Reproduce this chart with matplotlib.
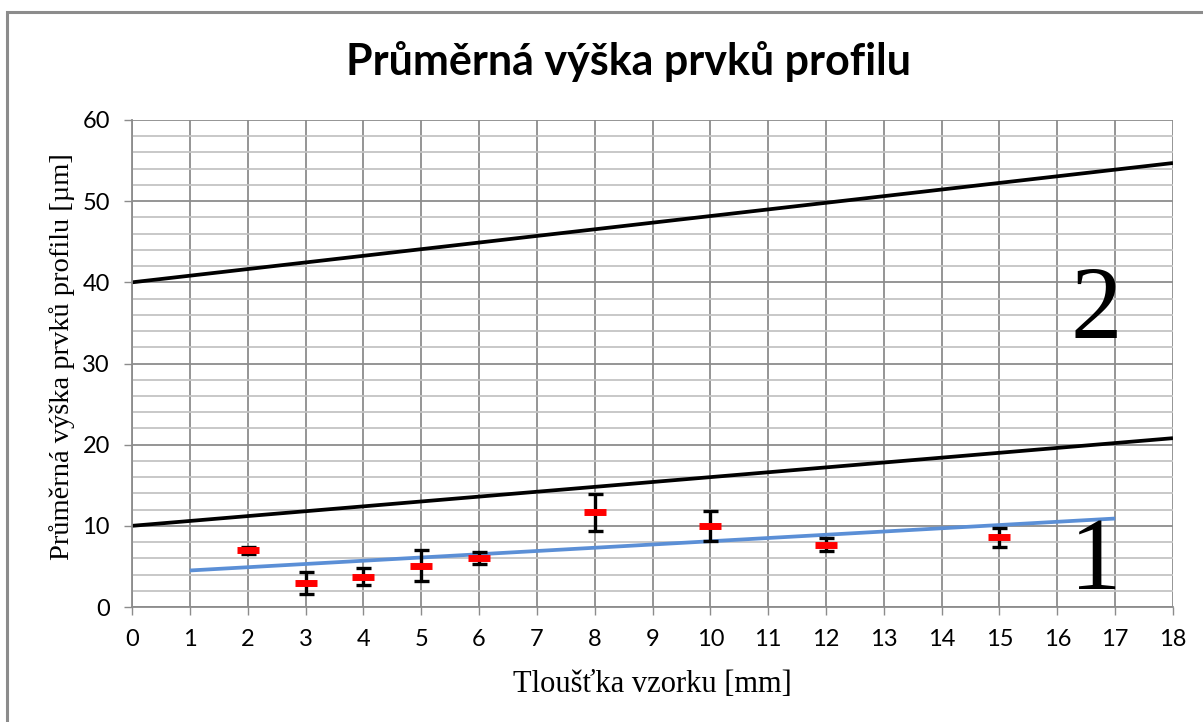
import matplotlib
matplotlib.use("Agg")
import matplotlib.pyplot as plt
from matplotlib.patches import Rectangle
from matplotlib.ticker import MultipleLocator

# Measured samples: thickness [mm], mean profile element height [µm], error
thickness = [2, 3, 4, 5, 6, 8, 10, 12, 15]
mean_height = [7.0, 3.0, 3.75, 5.1, 6.0, 11.65, 9.95, 7.7, 8.6]
err = [0.45, 1.35, 1.1, 1.9, 0.75, 2.3, 1.85, 0.8, 1.15]

# Linear trend of measured data (blue)
trend_x = [1, 17]
trend_y = [4.5, 10.9]

# Boundary lines of regions 1 and 2 (black)
lower_x = [0, 18]
lower_y = [10.0, 20.8]
upper_x = [0, 18]
upper_y = [40.0, 54.7]

x_ticks = list(range(0, 19))
y_ticks = [0, 10, 20, 30, 40, 50, 60]

W, H = 1203, 722
fig = plt.figure(figsize=(W / 100, H / 100), dpi=100)
fig.patch.set_facecolor("white")

# Chart area frame
fig.patches.append(Rectangle((7 / W, -0.05), 1.2, 1 - 12 / H + 0.05,
                             transform=fig.transFigure, fill=False,
                             edgecolor="#8c8c8c", linewidth=2.2))

ax = fig.add_axes([132 / W, 1 - 607 / H, (1173 - 132) / W, (607 - 120) / H])
ax.set_xlim(0, 18)
ax.set_ylim(0, 60)

ax.set_xticks(x_ticks)
ax.set_yticks(y_ticks)
ax.yaxis.set_minor_locator(MultipleLocator(2))
ax.grid(which="major", axis="both", color="#8c8c8c", linewidth=1.3)
ax.grid(which="minor", axis="y", color="#c4c4c4", linewidth=1.3)
ax.set_axisbelow(True)
for s in ["top", "right"]:
    ax.spines[s].set_visible(False)
for s in ["left", "bottom"]:
    ax.spines[s].set_color("#8c8c8c")
    ax.spines[s].set_linewidth(1.3)

ax.tick_params(axis="x", which="major", direction="out", length=6,
               width=1.0, color="#8c8c8c", labelsize=17, pad=10)
ax.tick_params(axis="y", which="major", direction="out", length=6,
               width=1.0, color="#8c8c8c", labelsize=17, pad=10)
ax.tick_params(axis="y", which="minor", length=0)
for lab in ax.get_xticklabels() + ax.get_yticklabels():
    lab.set_fontfamily("Lato")

ax.plot(upper_x, upper_y, color="black", linewidth=2.7, solid_capstyle="butt")
ax.plot(lower_x, lower_y, color="black", linewidth=2.7, solid_capstyle="butt")
ax.plot(trend_x, trend_y, color="#5b8fd6", linewidth=2.7, solid_capstyle="butt")

ax.errorbar(thickness, mean_height, yerr=err, fmt="none", ecolor="black",
            elinewidth=2.4, capsize=5.4, capthick=2.4, zorder=4)
ax.plot(thickness, mean_height, linestyle="none", marker="_", color="#ff0000",
        markersize=16, markeredgewidth=5, zorder=5)

ax.text(16.67, 33.1, "2", fontsize=74, fontfamily="Liberation Serif",
        ha="center", va="baseline")
ax.text(16.67, 2.2, "1", fontsize=74, fontfamily="Liberation Serif",
        ha="center", va="baseline")

fig.text(628 / W, 1 - 62 / H, "Průměrná výška prvků profilu", fontsize=31,
         fontweight="bold", fontfamily="Lato", ha="center", va="center")
fig.text(652 / W, 1 - 684 / H, "Tloušťka vzorku [mm]", fontsize=22,
         fontfamily="Liberation Serif", ha="center", va="center")
fig.text(62 / W, 1 - 357 / H, "Průměrná výška prvků profilu [µm]", fontsize=20.5,
         fontfamily="Liberation Serif", ha="center", va="center", rotation=90)

fig.savefig("out.png", dpi=100)
